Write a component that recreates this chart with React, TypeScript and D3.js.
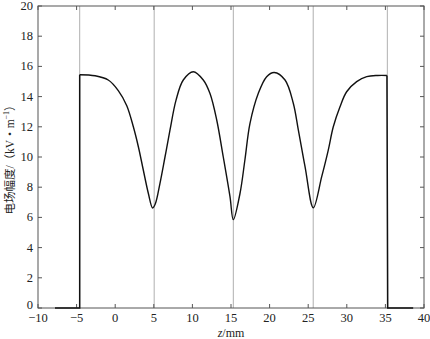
import React from "react";
import * as d3 from "d3";

const zValues = [-7.8, -4.6, -4.6, -2.6, -0.9, 0.4, 1.5, 2.35, 3.0, 3.64, 4.29, 4.85, 5.2, 5.8, 6.45, 7.1, 7.88, 8.82, 10.12, 11.41, 12.28, 13.15, 14.0, 14.87, 15.3, 16.17, 16.8, 17.46, 18.54, 19.62, 20.6, 22.0, 23.07, 23.72, 24.59, 25.66, 26.75, 27.6, 28.25, 29.12, 29.98, 31.28, 32.58, 34.0, 35.2, 35.3, 38.6];
const fieldValues = [0, 0, 15.45, 15.38, 15.1, 14.4, 13.4, 12.0, 10.68, 9.14, 7.6, 6.62, 6.9, 8.26, 10.0, 11.79, 13.77, 15.1, 15.65, 15.1, 14.2, 12.45, 10.0, 7.37, 5.85, 7.6, 9.8, 12.23, 14.22, 15.32, 15.6, 15.1, 13.56, 11.79, 9.36, 6.64, 8.7, 10.46, 12.0, 13.33, 14.32, 14.99, 15.32, 15.4, 15.4, 0, 0];
const guideLines = [-4.6, 5.05, 15.3, 25.65, 35.25];
const xTicks = [-10, -5, 0, 5, 10, 15, 20, 25, 30, 35, 40];
const yTicks = [0, 2, 4, 6, 8, 10, 12, 14, 16, 18, 20];

export default function App() {
  const W = 430, H = 339;
  const left = 38, right = 424, top = 6, bottom = 308;
  const x = d3.scaleLinear().domain([-10, 40]).range([left, right]);
  const y = d3.scaleLinear().domain([0, 20]).range([bottom, top]);
  const pts = zValues.map((z, i) => [z, fieldValues[i]] as [number, number]);
  const smooth = d3.line<[number, number]>().x(d => x(d[0])).y(d => y(d[1])).curve(d3.curveCatmullRom.alpha(0.5));
  const straight = d3.line<[number, number]>().x(d => x(d[0])).y(d => y(d[1]));
  const seg1 = pts.slice(0, 3);
  const seg3 = pts.slice(2, 45);
  const seg5 = pts.slice(44);
  const font = "'Liberation Serif', 'DejaVu Serif', 'Times New Roman', serif";
  const axisColor = "#555";
  const txt: React.CSSProperties = { fontFamily: font, fontSize: "12.5px" };
  return (
    <svg width={W} height={H} style={{ position: "absolute", left: 0, top: 0, background: "#fff" }}>
      {guideLines.map((g, i) => (
        <line key={"g" + i} x1={x(g)} x2={x(g)} y1={top} y2={bottom} stroke="#9a9a9a" strokeWidth={0.8} />
      ))}
      <rect x={left} y={top} width={right - left} height={bottom - top} fill="none" stroke={axisColor} strokeWidth={1} />
      {xTicks.map((t, i) => (
        <g key={"x" + i}>
          <line x1={x(t)} x2={x(t)} y1={bottom} y2={bottom - 4} stroke={axisColor} />
          <line x1={x(t)} x2={x(t)} y1={top} y2={top + 4} stroke={axisColor} />
          <text x={x(t)} y={bottom + 14} style={txt} textAnchor="middle" fill="#222">{t < 0 ? "\u2212" + Math.abs(t) : t}</text>
        </g>
      ))}
      {yTicks.map((t, i) => (
        <g key={"y" + i}>
          <line x1={left} x2={left + 4} y1={y(t)} y2={y(t)} stroke={axisColor} />
          <line x1={right} x2={right - 4} y1={y(t)} y2={y(t)} stroke={axisColor} />
          <text x={left - 5} y={y(t) + (t === 0 ? 1 : 4)} style={txt} textAnchor="end" fill="#222">{t}</text>
        </g>
      ))}
      <path d={straight(seg1) || ""} fill="none" stroke="#111" strokeWidth={1.5} strokeLinejoin="miter" />
      <path d={smooth(seg3) || ""} fill="none" stroke="#111" strokeWidth={1.4} strokeLinejoin="round" />
      <path d={straight(seg5) || ""} fill="none" stroke="#111" strokeWidth={1.5} strokeLinejoin="miter" />
      <text x={(left + right) / 2} y={336.5} style={{ ...txt, fontSize: "12px" }} textAnchor="middle" fill="#222">
        <tspan fontStyle="italic">z</tspan>/mm
      </text>
      <text transform={`translate(14, ${(top + bottom) / 2}) rotate(-90)`} style={{ fontFamily: "'Liberation Serif', 'Noto Sans CJK SC', serif", fontSize: "11.5px" }} textAnchor="middle" fill="#222">
        电场幅度/（kV・m<tspan fontSize={8} dy={-5}>−1</tspan><tspan dy={5}>）</tspan>
      </text>
    </svg>
  );
}
